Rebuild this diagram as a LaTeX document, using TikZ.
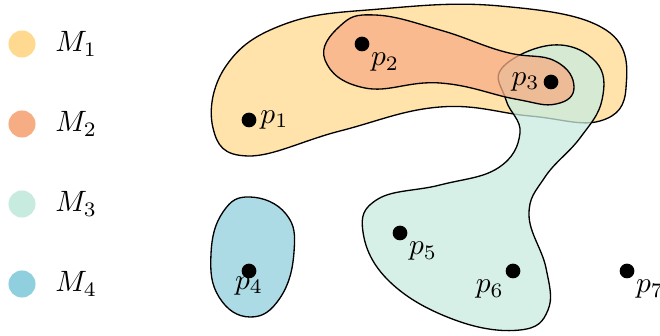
\documentclass[tikz,border=0pt]{standalone}
\usepackage{xcolor}
\usepackage{tikz}
\usetikzlibrary{positioning}
\definecolor{setyellow}{HTML}{FFD98F}
\definecolor{setsalmon}{HTML}{F7AD84}
\definecolor{setmint}{HTML}{C8EBE0}
\definecolor{setblue}{HTML}{90CFDE}

\begin{document}
\begin{tikzpicture}[
  x=0.34pt,y=-0.34pt,
  key/.style={circle,inner sep=0pt,minimum size=9.2pt},
  pt/.style={circle,fill=black,inner sep=0pt,minimum size=5pt},
  region/.style={draw=black,line width=0.45pt,fill opacity=0.75}
]
\useasboundingbox (0,0) rectangle (660,336);
\node[key,fill=setyellow] (k1) at (22,44) {};
\node[key,fill=setsalmon] (k2) at (22,124) {};
\node[key,fill=setmint] (k3) at (22,204) {};
\node[key,fill=setblue] (k4) at (22,284) {};
\node[right=3pt of k1] (m1) {$M_1$};
\node[right=3pt of k2] (m2) {$M_2$};
\node[right=3pt of k3] (m3) {$M_3$};
\node[right=3pt of k4] (m4) {$M_4$};
\draw[region,fill=setyellow] plot[smooth cycle,tension=0.7] coordinates {
  (213,128) (248,156) (340,131) (440,107) (530,116) (600,121) (626,88)
  (606,30) (500,6) (380,9) (285,24) (226,66)};
\draw[region,fill=setmint] plot[smooth cycle,tension=0.7] coordinates {
  (553,45) (596,62) (602,100) (580,138) (545,177) (529,215) (546,268)
  (548,310) (520,330) (455,320) (390,282) (363,232) (378,199) (440,185)
  (498,168) (520,133) (506,100) (502,68)};
\draw[region,fill=setsalmon] plot[smooth cycle,tension=0.75] coordinates {
  (325,60) (340,26) (375,15) (440,30) (505,52) (555,61) (574,87)
  (556,104) (515,99) (440,83) (365,88)};
\draw[region,fill=setblue] plot[smooth cycle,tension=0.75] coordinates {
  (250,197) (286,214) (294,252) (280,298) (250,317) (219,297) (211,254) (223,212)};
\node[pt,label={[inner sep=1pt]right:$p_1$}] (p1) at (249,120) {};
\node[pt,label={[inner sep=1pt]below right:$p_2$}] (p2) at (362,44) {};
\node[pt,label={[inner sep=1pt]left:$p_3$}] (p3) at (551,82) {};
\node[pt,label={[inner sep=0pt,label distance=-1pt]below:$p_4$}] (p4) at (249,271) {};
\node[pt,label={[inner sep=1pt]below right:$p_5$}] (p5) at (400,233) {};
\node[pt,label={[inner sep=1pt]below left:$p_6$}] (p6) at (513,271) {};
\node[pt,label={[inner sep=1pt]below right:$p_7$}] (p7) at (627,271) {};
\end{tikzpicture}
\end{document}
